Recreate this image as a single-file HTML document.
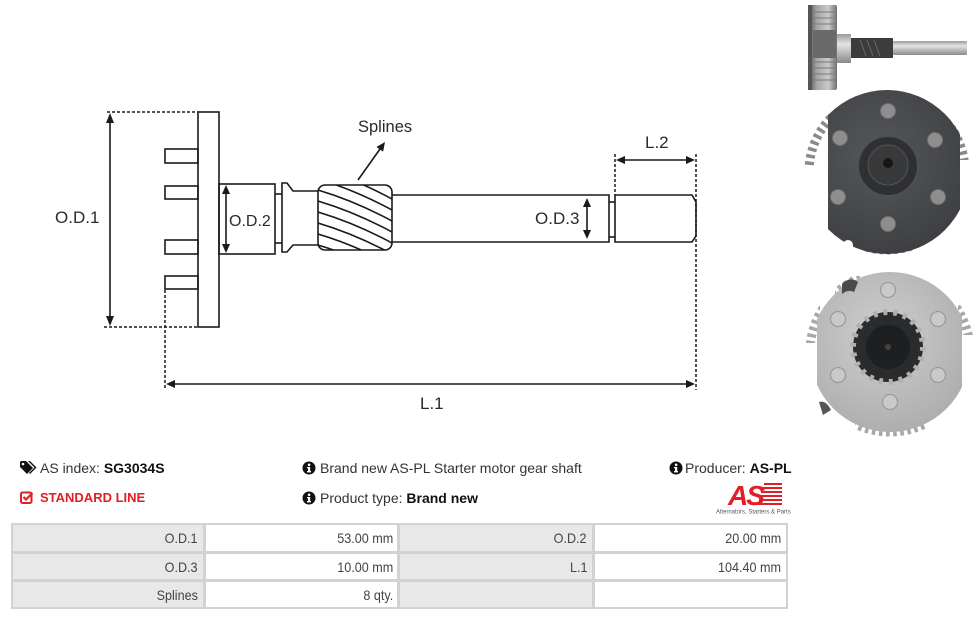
<!DOCTYPE html>
<html>
<head>
<meta charset="utf-8">
<style>
  html,body{margin:0;padding:0;background:#fff;}
  body{width:976px;height:619px;position:relative;overflow:hidden;font-family:"Liberation Sans",Arial,sans-serif;}
  .abs{position:absolute;}
  .info{font-size:14px;color:#333;white-space:nowrap;line-height:16px;}
  .info b{color:#111;}
  .red{color:#e31e24;font-weight:bold;font-size:13px;white-space:nowrap;line-height:16px;}
  .cell{position:absolute;font-size:14px;color:#444;text-align:right;line-height:16px;white-space:nowrap;}
  .cell span{display:inline-block;transform:scaleX(0.9);transform-origin:right center;}
</style>
</head>
<body>

<svg class="abs" style="left:0;top:0" width="976" height="440" viewBox="0 0 976 440">
  <defs>
    <clipPath id="gearclip"><rect x="318" y="185" width="74" height="65" rx="7" ry="7"/></clipPath>
  </defs>
  <g fill="none" stroke="#1a1a1a" stroke-width="1.6">
    <g stroke-dasharray="3,2" stroke-width="1.5">
      <line x1="107" y1="112" x2="198" y2="112"/>
      <line x1="104" y1="327" x2="198" y2="327"/>
      <line x1="165" y1="290" x2="165" y2="389"/>
      <line x1="615" y1="154" x2="615" y2="195"/>
      <line x1="696" y1="154" x2="696" y2="390"/>
    </g>
    <rect x="198" y="112" width="21" height="215"/>
    <rect x="165" y="149" width="33" height="14"/>
    <rect x="165" y="186" width="33" height="13"/>
    <rect x="165" y="240" width="33" height="14"/>
    <rect x="165" y="276" width="33" height="13"/>
    <rect x="219" y="184" width="56" height="70"/>
    <line x1="275" y1="194" x2="282" y2="194"/>
    <line x1="275" y1="243" x2="282" y2="243"/>
    <path d="M318,191 L293,191 L287,183 L282,183 L282,252 L287,252 L293,245 L318,245"/>
    <rect x="318" y="185" width="74" height="65" rx="7" ry="7"/>
    <g clip-path="url(#gearclip)">
      <path d="M318,157 Q355,168 392,188"/>
      <path d="M318,168 Q355,179 392,199"/>
      <path d="M318,179 Q355,190 392,210"/>
      <path d="M318,190 Q355,201 392,221"/>
      <path d="M318,201 Q355,212 392,232"/>
      <path d="M318,212 Q355,223 392,243"/>
      <path d="M318,223 Q355,234 392,254"/>
      <path d="M318,234 Q355,245 392,265"/>
      <path d="M318,245 Q355,256 392,276"/>
    </g>
    <path d="M392,195 L609,195 L609,242 L392,242"/>
    <line x1="609" y1="202" x2="615" y2="202"/>
    <line x1="609" y1="237" x2="615" y2="237"/>
    <path d="M615,195 L692,195 L696,202 L696,236 L692,242 L615,242 Z"/>
    <line x1="110" y1="122" x2="110" y2="317"/>
    <line x1="226" y1="193" x2="226" y2="245"/>
    <line x1="587" y1="206" x2="587" y2="230"/>
    <line x1="624" y1="160" x2="687" y2="160"/>
    <line x1="174" y1="384" x2="687" y2="384"/>
    <line x1="358" y1="180" x2="380" y2="149"/>
  </g>
  <g fill="#1a1a1a">
    <polygon points="110,113 106,123 114,123"/>
    <polygon points="110,326 106,316 114,316"/>
    <polygon points="226,185 222,194 230,194"/>
    <polygon points="226,253 222,244 230,244"/>
    <polygon points="587,198 583,207 591,207"/>
    <polygon points="587,239 583,230 591,230"/>
    <polygon points="616,160 625,156 625,164"/>
    <polygon points="695,160 686,156 686,164"/>
    <polygon points="166,384 175,380 175,388"/>
    <polygon points="695,384 686,380 686,388"/>
    <polygon points="385,142 383.1,151.6 376.5,147"/>
  </g>
  <g font-family="'Liberation Sans',Arial,sans-serif" fill="#2a2a2a" font-size="17">
    <text x="55" y="223">O.D.1</text>
    <text x="229" y="226" font-size="16">O.D.2</text>
    <text x="535" y="224">O.D.3</text>
    <text x="645" y="148">L.2</text>
    <text x="358" y="132" font-size="16.5">Splines</text>
    <text x="420" y="409">L.1</text>
  </g>

  <defs>
    <linearGradient id="shaftG" x1="0" y1="0" x2="0" y2="1">
      <stop offset="0" stop-color="#9a9a9a"/>
      <stop offset="0.35" stop-color="#e4e4e4"/>
      <stop offset="1" stop-color="#8a8a8a"/>
    </linearGradient>
    <linearGradient id="drumG" x1="0" y1="0" x2="1" y2="0">
      <stop offset="0" stop-color="#4a4a4a"/>
      <stop offset="0.3" stop-color="#a4a4a4"/>
      <stop offset="0.7" stop-color="#cacaca"/>
      <stop offset="1" stop-color="#707070"/>
    </linearGradient>
    <radialGradient id="darkG" cx="0.45" cy="0.4" r="0.7">
      <stop offset="0" stop-color="#55575a"/>
      <stop offset="1" stop-color="#3a3c3e"/>
    </radialGradient>
    <radialGradient id="silverG" cx="0.45" cy="0.4" r="0.7">
      <stop offset="0" stop-color="#cfcfcf"/>
      <stop offset="1" stop-color="#a9a9a9"/>
    </radialGradient>
    <clipPath id="darkFlat"><rect x="828" y="80" width="132" height="190"/></clipPath>
    <clipPath id="silverFlat"><rect x="817" y="265" width="145" height="175"/></clipPath>
    <clipPath id="teeth1">
      <rect x="800" y="112" width="30" height="55"/>
      <rect x="955" y="108" width="20" height="52"/>
      <rect x="865" y="240" width="50" height="25"/>
    </clipPath>
    <clipPath id="teeth2">
      <rect x="800" y="298" width="20" height="45"/>
      <rect x="958" y="290" width="20" height="45"/>
      <rect x="855" y="420" width="70" height="20"/>
      <rect x="835" y="276" width="30" height="22"/>
    </clipPath>
  </defs>

  <rect x="808" y="5" width="29" height="85" rx="2" fill="url(#drumG)"/>
  <rect x="808" y="5" width="4" height="85" fill="#555"/>
  <g stroke="#7a7a7a" stroke-width="1">
    <line x1="813" y1="12" x2="836" y2="12"/><line x1="813" y1="18" x2="836" y2="18"/>
    <line x1="813" y1="24" x2="836" y2="24"/><line x1="813" y1="62" x2="836" y2="62"/>
    <line x1="813" y1="68" x2="836" y2="68"/><line x1="813" y1="74" x2="836" y2="74"/>
    <line x1="813" y1="80" x2="836" y2="80"/>
  </g>
  <rect x="813" y="30" width="23" height="28" fill="#6a6a6a"/>
  <rect x="837" y="34" width="14" height="29" fill="url(#shaftG)"/>
  <rect x="851" y="38" width="42" height="20" fill="#3b3c3e"/>
  <g stroke="#6a6a6a" stroke-width="1"><line x1="860" y1="40" x2="866" y2="56"/><line x1="867" y1="40" x2="873" y2="56"/><line x1="874" y1="40" x2="880" y2="56"/></g>
  <rect x="893" y="41" width="74" height="14" rx="1" fill="url(#shaftG)"/>

  <circle cx="887" cy="172" r="78" fill="none" stroke="#8a8a8a" stroke-width="9" stroke-dasharray="3.5 3.5" clip-path="url(#teeth1)"/>
  <circle cx="887" cy="172" r="82" fill="url(#darkG)" clip-path="url(#darkFlat)"/>
  <circle cx="848" cy="245" r="5" fill="#fff"/>
  <g fill="#8e8e8e" stroke="#6d6d6d" stroke-width="1">
    <circle cx="888" cy="111" r="7.5"/>
    <circle cx="840" cy="138" r="7.5"/>
    <circle cx="935" cy="140" r="7.5"/>
    <circle cx="838" cy="197" r="7.5"/>
    <circle cx="938" cy="197" r="7.5"/>
    <circle cx="888" cy="224" r="7.5"/>
  </g>
  <circle cx="888" cy="166" r="30" fill="#2f3032" stroke="#4e5052" stroke-width="2"/>
  <circle cx="888" cy="165" r="20" fill="#38393b" stroke="#555" stroke-width="1"/>
  <circle cx="888" cy="163" r="5" fill="#151515"/>

  <circle cx="890" cy="352" r="80" fill="none" stroke="#a8a8a8" stroke-width="9" stroke-dasharray="3.5 3.5" clip-path="url(#teeth2)"/>
  <circle cx="890" cy="352" r="80" fill="url(#silverG)" clip-path="url(#silverFlat)"/>
  <path d="M842,284 Q850,276 858,282 L854,292 Q848,289 842,294 Z" fill="#4a4a4a"/>
  <path d="M819,402 Q826,400 831,410 L823,415 Z" fill="#555"/>
  <circle cx="888" cy="347" r="35" fill="#2a2b2d"/>
  <circle cx="888" cy="347" r="35" fill="none" stroke="#b0b0b0" stroke-width="6" stroke-dasharray="4 6"/>
  <circle cx="888" cy="347" r="22" fill="#1e1f21"/>
  <circle cx="888" cy="347" r="3" fill="#444"/>
  <g fill="#c9c9c9" stroke="#9a9a9a" stroke-width="1.2">
    <circle cx="888" cy="290" r="7.5"/>
    <circle cx="838" cy="319" r="7.5"/>
    <circle cx="938" cy="319" r="7.5"/>
    <circle cx="838" cy="375" r="7.5"/>
    <circle cx="938" cy="375" r="7.5"/>
    <circle cx="890" cy="402" r="7.5"/>
  </g>
</svg>

<svg class="abs" style="left:20px;top:461px" width="17" height="14" viewBox="0 0 17 14">
  <path d="M0,1 L0,6 L7,13 L13,7 L6,0 L1,0 Z" fill="#111"/>
  <circle cx="3" cy="3" r="1.3" fill="#fff"/>
  <path d="M8,0 L10,0 L16.5,6.5 L10,13 L9,12 L14.5,6.5 Z" fill="#111"/>
</svg>
<div class="abs info" style="left:40px;top:460px;">AS index: <b>SG3034S</b></div>

<svg class="abs" style="left:20px;top:491px" width="14" height="13" viewBox="0 0 14 13">
  <rect x="1" y="1.5" width="10.5" height="10.5" rx="1.5" fill="none" stroke="#e31e24" stroke-width="2"/>
  <path d="M3.5,6 L6,8.5 L12.5,2" fill="none" stroke="#e31e24" stroke-width="2.2"/>
</svg>
<div class="abs red" style="left:40px;top:490px;">STANDARD LINE</div>

<svg class="abs" style="left:302px;top:461px" width="14" height="14" viewBox="0 0 14 14">
  <circle cx="7" cy="7" r="6.5" fill="#111"/>
  <rect x="6" y="6" width="2.2" height="5" fill="#fff"/><rect x="5" y="10" width="4" height="1.4" fill="#fff"/><rect x="5" y="6" width="2" height="1.2" fill="#fff"/>
  <circle cx="7.1" cy="3.8" r="1.3" fill="#fff"/>
</svg>
<div class="abs info" style="left:320px;top:460px;">Brand new AS-PL Starter motor gear shaft</div>

<svg class="abs" style="left:302px;top:491px" width="14" height="14" viewBox="0 0 14 14">
  <circle cx="7" cy="7" r="6.5" fill="#111"/>
  <rect x="6" y="6" width="2.2" height="5" fill="#fff"/><rect x="5" y="10" width="4" height="1.4" fill="#fff"/><rect x="5" y="6" width="2" height="1.2" fill="#fff"/>
  <circle cx="7.1" cy="3.8" r="1.3" fill="#fff"/>
</svg>
<div class="abs info" style="left:320px;top:490px;">Product type: <b>Brand new</b></div>

<svg class="abs" style="left:669px;top:461px" width="14" height="14" viewBox="0 0 14 14">
  <circle cx="7" cy="7" r="6.5" fill="#111"/>
  <rect x="6" y="6" width="2.2" height="5" fill="#fff"/><rect x="5" y="10" width="4" height="1.4" fill="#fff"/><rect x="5" y="6" width="2" height="1.2" fill="#fff"/>
  <circle cx="7.1" cy="3.8" r="1.3" fill="#fff"/>
</svg>
<div class="abs info" style="left:685px;top:460px;">Producer: <b>AS-PL</b></div>

<svg class="abs" style="left:712px;top:480px" width="82" height="36" viewBox="0 0 82 36">
  <g fill="#e31e24">
    <rect x="52" y="3" width="18" height="2"/>
    <rect x="50" y="7" width="20" height="2"/>
    <rect x="49" y="11" width="21" height="2"/>
    <rect x="48" y="15" width="22" height="2"/>
    <rect x="47" y="19" width="23" height="2"/>
    <rect x="46" y="23" width="24" height="2"/>
  </g>
  <text x="16" y="25" font-family="'Liberation Sans',Arial,sans-serif" font-weight="bold" font-style="italic" font-size="28" fill="#e31e24" letter-spacing="-2">AS</text>
  <text x="4" y="33.5" font-family="'Liberation Sans',Arial,sans-serif" font-size="6" fill="#555">Alternators, Starters &amp; Parts</text>
</svg>

<div class="abs" style="left:11px;top:523px;width:777px;height:86px;background:#d2d2d2;"></div>
<div class="abs" style="left:13px;top:525px;width:190px;height:26px;background:#e8e8e8;"></div>
<div class="abs" style="left:206px;top:525px;width:191px;height:26px;background:#fff;"></div>
<div class="abs" style="left:400px;top:525px;width:192px;height:26px;background:#e8e8e8;"></div>
<div class="abs" style="left:595px;top:525px;width:191px;height:26px;background:#fff;"></div>
<div class="abs" style="left:13px;top:554px;width:190px;height:25px;background:#e8e8e8;"></div>
<div class="abs" style="left:206px;top:554px;width:191px;height:25px;background:#fff;"></div>
<div class="abs" style="left:400px;top:554px;width:192px;height:25px;background:#e8e8e8;"></div>
<div class="abs" style="left:595px;top:554px;width:191px;height:25px;background:#fff;"></div>
<div class="abs" style="left:13px;top:582px;width:190px;height:25px;background:#e8e8e8;"></div>
<div class="abs" style="left:206px;top:582px;width:191px;height:25px;background:#fff;"></div>
<div class="abs" style="left:400px;top:582px;width:192px;height:25px;background:#e8e8e8;"></div>
<div class="abs" style="left:595px;top:582px;width:191px;height:25px;background:#fff;"></div>

<div class="cell" style="left:13px;width:185px;top:530px;"><span>O.D.1</span></div>
<div class="cell" style="left:206px;width:187px;top:530px;"><span>53.00 mm</span></div>
<div class="cell" style="left:400px;width:187px;top:530px;"><span>O.D.2</span></div>
<div class="cell" style="left:595px;width:186px;top:530px;"><span>20.00 mm</span></div>

<div class="cell" style="left:13px;width:185px;top:559px;"><span>O.D.3</span></div>
<div class="cell" style="left:206px;width:187px;top:559px;"><span>10.00 mm</span></div>
<div class="cell" style="left:400px;width:187px;top:559px;"><span>L.1</span></div>
<div class="cell" style="left:595px;width:186px;top:559px;"><span>104.40 mm</span></div>

<div class="cell" style="left:13px;width:185px;top:587px;"><span>Splines</span></div>
<div class="cell" style="left:206px;width:187px;top:587px;"><span>8 qty.</span></div>

</body>
</html>
